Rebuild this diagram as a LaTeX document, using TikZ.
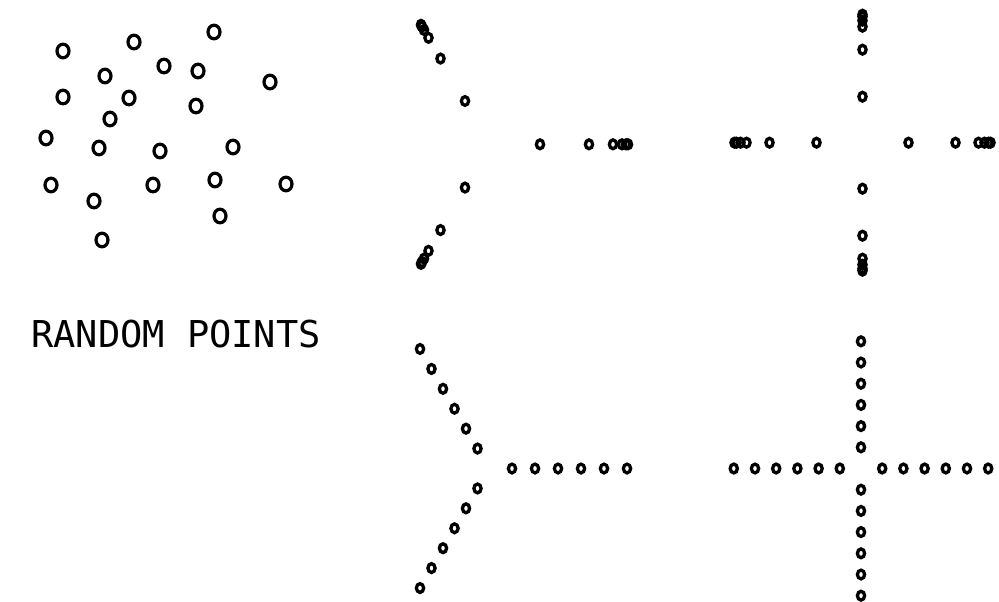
\documentclass[tikz,border=0pt]{standalone}
\usepackage{fontspec}
\newfontfamily\plotfont{DejaVu Sans Mono}
\begin{document}
\begin{tikzpicture}[x=1pt,y=-1pt,
  bigo/.style={draw=black,line width=3.2pt,x radius=6.0,y radius=6.8},
  smallo/.style={draw=black,line width=3.3pt,x radius=3.6,y radius=4.4}]
\useasboundingbox (0,0) rectangle (999,602);
% random points
\foreach \x/\y in {63/51,134/42,214/32,105/76,164/66,198/71,270/82,63/97,129/98,196/106,110/119,46/138,99/148,160/151,233/147,51/185,153/185,215/180,286/184,94/201,220/216,102/240}
  \draw[bigo] (\x,\y) ellipse [];
\node[anchor=base west,inner sep=0pt,font=\plotfont\fontsize{37}{40}\selectfont] (title) at (31,347) {RANDOM POINTS};
% top three-arm star
\begin{scope}[shift={(490,144.3)}]
  \foreach \a in {0,120,240}
    \foreach \r in {50,99,123,132,136,138}
      \draw[smallo] (\a:\r) ellipse [];
\end{scope}
% top cross
\begin{scope}[shift={(862.5,142.7)}]
  \foreach \a in {0,90,180,270}
    \foreach \r in {46,93,116,122,126,128}
      \draw[smallo] (\a:\r) ellipse [];
\end{scope}
% bottom three-arm star
\begin{scope}[shift={(489,468.5)}]
  \foreach \a in {0,120,240}
    \foreach \k in {1,...,6}
      \draw[smallo] (\a:23*\k) ellipse [];
\end{scope}
% bottom cross
\begin{scope}[shift={(861,468.5)}]
  \foreach \a in {0,90,180,270}
    \foreach \k in {1,...,6}
      \draw[smallo] (\a:21.2*\k) ellipse [];
\end{scope}
\end{tikzpicture}
\end{document}
